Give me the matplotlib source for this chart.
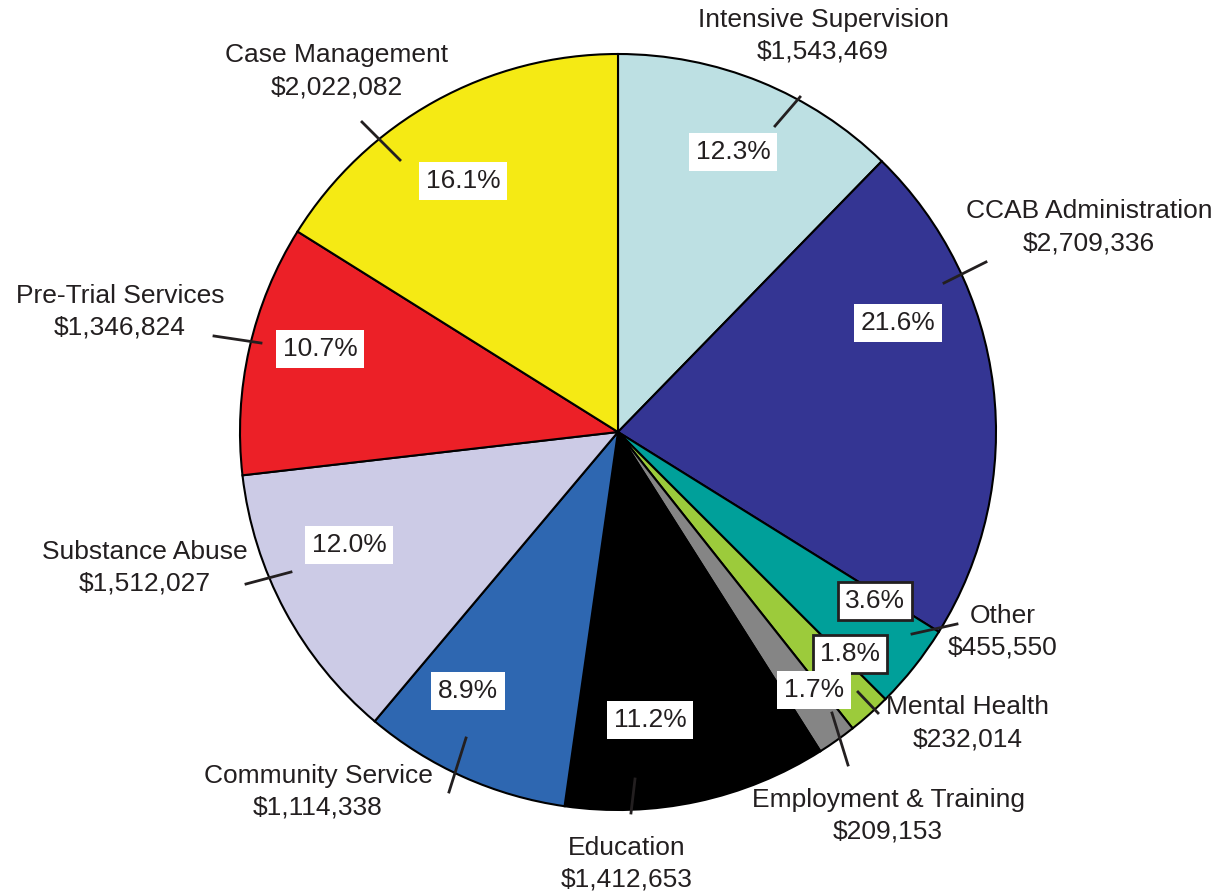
import matplotlib.pyplot as plt

plt.rcParams['font.family'] = ['Liberation Sans', 'DejaVu Sans']

categories = ['Intensive Supervision', 'CCAB Administration', 'Other', 'Mental Health',
              'Employment & Training', 'Education', 'Community Service',
              'Substance Abuse', 'Pre-Trial Services', 'Case Management']
amounts = [1543469, 2709336, 455550, 232014, 209153,
           1412653, 1114338, 1512027, 1346824, 2022082]
colors = ['#bde0e3', '#343593', '#00a09a', '#9ccb3b', '#858585',
          '#000000', '#2e67b1', '#cccbe6', '#ec2027', '#f5ea14']

W, H = 1220, 894
TXT = '#231f20'
FS = 19

# layout (pixel coords, y measured from top)
name_pos = [(823, 20), (1089, 211), (1003, 616), (968, 707), (888, 800),
            (627, 848), (318, 776), (145, 552), (120, 296), (337, 55)]
pct_pos = [(733, 152), (898, 323), (875, 601), (850, 654), (814, 690),
           (650, 720), (468, 691), (349, 545), (320, 349), (463, 181)]
boxed = [False, False, True, True, False, False, False, False, False, False]
leaders = [((775, 126), (800, 97)), ((944, 283), (986, 262)), ((912, 634), (957, 624)),
           ((858, 692), (878, 713)), ((832, 713), (848, 765)), ((635, 779), (631, 813)),
           ((466, 738), (449, 792)), ((291, 572), (246, 584)), ((261, 343), (214, 336)),
           ((400, 160), (362, 122))]


def fy(y):
    return H - y


fig = plt.figure(figsize=(12.2, 8.94), dpi=100)
ax = fig.add_axes([0, 0, 1, 1])

ax.pie(amounts, colors=colors, startangle=90, counterclock=False,
       center=(618, fy(432)), radius=378, frame=True,
       wedgeprops=dict(edgecolor='black', linewidth=1.5))
ax.set_xlim(0, W)
ax.set_ylim(0, H)
ax.set_aspect('equal')
ax.axis('off')

total = sum(amounts)
for i, (name, amt) in enumerate(zip(categories, amounts)):
    (x0, y0), (x1, y1) = leaders[i]
    ax.plot([x0, x1], [fy(y0), fy(y1)], color=TXT, lw=2)
    nx, ny = name_pos[i]
    ax.text(nx, fy(ny), name, ha='center', va='center', fontsize=FS, color=TXT)
    ax.text(nx, fy(ny + 32), f'${amt:,}', ha='center', va='center', fontsize=FS, color=TXT)
    px, py = pct_pos[i]
    box = dict(boxstyle='square,pad=0.25', facecolor='white',
               edgecolor=TXT if boxed[i] else 'none', linewidth=2)
    ax.text(px, fy(py), f'{amt / total * 100:.1f}%', ha='center', va='center',
            fontsize=FS, color=TXT, bbox=box)

fig.savefig('out.png', dpi=100)
